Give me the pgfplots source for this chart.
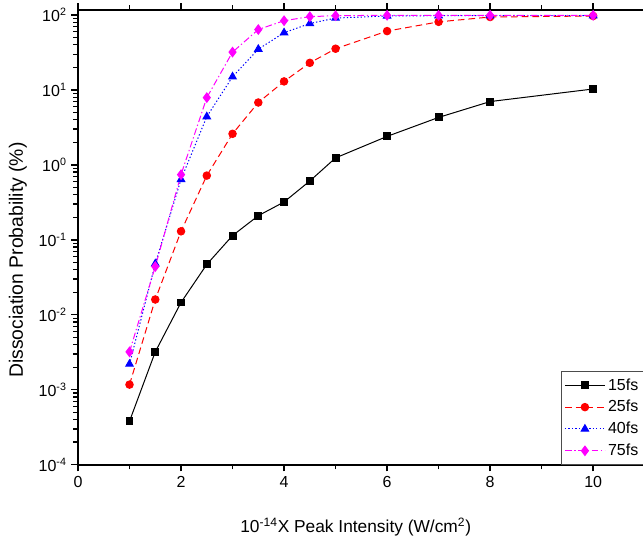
\documentclass[border=0pt]{standalone}
\usepackage{pgfplots}
\pgfplotsset{compat=1.18}
\usepackage{fontspec}
\setmainfont{Liberation Sans}
\definecolor{cRed}{RGB}{255,0,0}
\definecolor{cBlue}{RGB}{0,0,255}
\definecolor{cMag}{RGB}{255,0,255}

\begin{document}
\begin{tikzpicture}
\begin{axis}[
    name=ax, at={(0,0)}, anchor=south west,
    scale only axis, width=425pt, height=341pt,
    ymode=log, xmin=0, xmax=11, ymin=1e-4, ymax=116.6,
    axis line style={line width=1.3pt},
    tick style={line width=1pt, black},
    tick align=outside, major tick length=5pt, minor tick length=3.5pt,
    xtick={0,2,4,6,8,10}, xticklabels={0,2,4,6,8,10}, minor x tick num=1,
    xtick pos=both, ytick pos=left,
    ytick={1e-4,1e-3,1e-2,1e-1,1,10,100},
    yticklabels={10\textsuperscript{-4},10\textsuperscript{-3},10\textsuperscript{-2},10\textsuperscript{-1},10\textsuperscript{0},10\textsuperscript{1},10\textsuperscript{2}},
    ticklabel style={font=\fontsize{12}{14}\selectfont},
    xlabel={10\textsuperscript{-14}X Peak Intensity (W/cm\textsuperscript{2})},
    ylabel={Dissociation Probability (\%)},
    xlabel style={font=\fontsize{13}{15}\selectfont, at={(axis description cs:0.49,-0.138)}, anchor=center},
    ylabel style={font=\fontsize{14.5}{16}\selectfont, at={(axis description cs:-0.106,0.45)}, anchor=center},
    legend cell align=left,
    legend style={at={(0.853,0)}, anchor=south west, draw=black!70, line width=0.6pt,
        font=\fontsize{12}{13}\selectfont, row sep=2.2pt, inner ysep=3pt, inner xsep=2pt},
    legend image code/.code={\draw[mark repeat=2, mark phase=2, #1] plot coordinates {(0pt,0pt) (15pt,0pt) (30pt,0pt)};},
    every axis plot/.append style={line width=0.75pt},
]
\addplot[black, mark=square*, mark size=2.6pt, mark options={solid}] coordinates {
(1,3.8e-4) (1.5,3.2e-3) (2,0.0146) (2.5,0.047) (3,0.114) (3.5,0.21) (4,0.32) (4.5,0.61) (5,1.24) (6,2.4) (7,4.3) (8,7.0) (10,10.3)};
\addplot[cRed, dash pattern=on 5pt off 3pt, mark=*, mark size=2.8pt, mark options={solid}] coordinates {
(1,0.00117) (1.5,0.016) (2,0.13) (2.5,0.72) (3,2.6) (3.5,6.8) (4,13) (4.5,23) (5,35.5) (6,61) (7,81) (8,94) (10,97)};
\addplot[cBlue, dash pattern=on 1pt off 1.6pt, mark=triangle*, mark size=3.2pt, mark options={solid}] coordinates {
(1,0.0022) (1.5,0.048) (2,0.64) (2.5,4.4) (3,15) (3.5,35) (4,58) (4.5,77) (5,91) (6,97) (7,98) (8,98) (10,98)};
\addplot[cMag, dash pattern=on 5pt off 2pt on 1pt off 2pt, mark=diamond*, mark size=3.5pt, mark options={solid}] coordinates {
(1,0.0032) (1.5,0.044) (2,0.74) (2.5,7.9) (3,32) (3.5,64) (4,84) (4.5,95) (5,98) (6,99) (7,99) (8,99) (10,99)};
\legend{15fs,25fs,40fs,75fs}
\end{axis}
\pgfresetboundingbox
\path[use as bounding box] (-58.5pt,-59.25pt) rectangle (423.75pt,348.5pt);
\end{tikzpicture}
\end{document}
